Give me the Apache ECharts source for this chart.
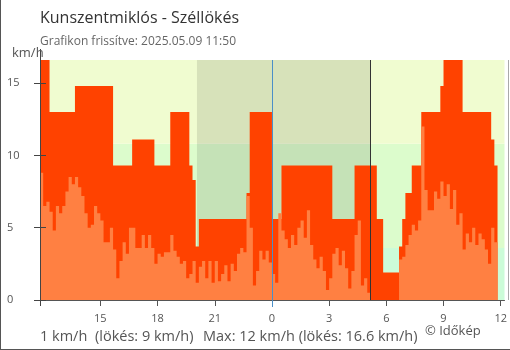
<!DOCTYPE html>
<html>
<head>
<meta charset="utf-8">
<script src="https://cdn.jsdelivr.net/npm/echarts@6/dist/echarts.min.js"></script>
<style>
  html, body { margin: 0; padding: 0; background: #fff; }
  #chart { width: 510px; height: 350px; }
</style>
</head>
<body>
<div id="chart"></div>
<script>
// Kunszentmiklós wind station, 10-minute readings
// from 2025-05-08 11:50 to 2025-05-09 11:50 (hours counted from 05-08 00:00)
const startHour = 11 + 50 / 60;
const stepHours = 10 / 60;

// gusts, km/h
const gust = [
  16.6, 16.6, 16.6, 13.0, 13.0, 13.0, 13.0, 13.0, 13.0, 13.0,
  13.0, 14.8, 14.8, 14.8, 14.8, 14.8, 14.8, 14.8, 14.8, 14.8,
  14.8, 14.8, 14.8, 9.3, 9.3, 9.3, 9.3, 9.3, 9.3, 11.1,
  11.1, 11.1, 11.1, 11.1, 11.1, 11.1, 9.3, 9.3, 9.3, 9.3,
  9.3, 13.0, 13.0, 13.0, 13.0, 13.0, 13.0, 9.3, 8.3, 3.7,
  5.6, 5.6, 5.6, 5.6, 5.6, 5.6, 5.6, 5.6, 5.6, 5.6,
  5.6, 5.6, 5.6, 5.6, 5.6, 7.4, 13.0, 13.0, 13.0, 13.0,
  13.0, 13.0, 13.0, 5.6, 5.6, 5.6, 9.3, 9.3, 9.3, 9.3,
  9.3, 9.3, 9.3, 9.3, 9.3, 9.3, 9.3, 9.3, 9.3, 9.3,
  9.3, 9.3, 5.6, 5.6, 5.6, 5.6, 5.6, 5.6, 5.6, 9.3,
  9.3, 9.3, 9.3, 9.3, 9.3, 9.3, 5.6, 5.6, 1.9, 1.9,
  1.9, 1.9, 1.9, 3.7, 5.6, 7.4, 7.4, 9.3, 9.3, 9.3,
  13.0, 13.0, 13.0, 13.0, 13.0, 13.0, 14.8, 16.6, 16.6, 16.6,
  16.6, 16.6, 16.6, 13.0, 13.0, 13.0, 13.0, 13.0, 13.0, 13.0,
  13.0, 13.0, 11.1, 9.3, 9.3
];

// mean wind, km/h
const wind = [
  8.8, 6.5, 6.8, 6.1, 4.8, 6.5, 6.0, 6.5, 7.5, 8.5,
  8.0, 8.5, 7.8, 7.2, 6.0, 5.0, 5.2, 6.5, 6.0, 5.5,
  4.0, 4.0, 5.0, 3.5, 1.5, 2.7, 4.0, 3.2, 5.0, 5.0,
  3.6, 3.6, 4.5, 3.6, 4.5, 3.6, 2.5, 3.2, 3.0, 3.3,
  3.3, 4.5, 3.4, 3.0, 2.5, 2.7, 1.5, 1.8, 2.7, 1.2,
  2.3, 2.7, 1.5, 2.7, 1.2, 2.7, 1.3, 1.8, 2.4, 1.3,
  2.5, 2.0, 3.2, 3.6, 3.3, 7.2, 5.0, 1.0, 2.0, 3.4,
  2.8, 3.4, 2.6, 1.8, 1.2, 6.0, 4.8, 4.2, 3.6, 4.5,
  3.8, 5.0, 5.5, 4.3, 6.2, 3.8, 2.8, 2.2, 3.0, 2.0,
  0.7, 1.5, 3.2, 3.6, 2.4, 3.4, 2.2, 0.8, 2.0, 4.5,
  5.5, 1.0, 1.5, 0.5, 0, 0, 0, 0, 0, 0,
  0, 0, 0, 2.8, 3.0, 3.8, 4.5, 5.2, 4.8, 5.5,
  12.0, 7.6, 6.2, 6.2, 7.5, 7.0, 8.2, 7.2, 8.0, 6.3,
  7.6, 5.2, 6.0, 3.5, 4.6, 4.0, 5.0, 3.8, 4.6, 4.2,
  3.5, 2.5, 5.0, 4.0, 4.0
];

const xTicks = [15, 18, 21, 24, 27, 30, 33, 36];
const yTicks = [0, 5, 10, 15];
const yMax = 16.6;
const xMax = 36.2;

// wind-force bands (km/h) and the night between sunset and sunrise
const bandEdges = [0, 3.6, 10.8, yMax];
const bandColors = ['#ccfcd8', '#dcfccc', '#f0fcd0'];
const sunset = 20 + 4 / 60;
const sunrise = 24 + 5 + 11 / 60;
const midnight = 24;

const FONT = '"Open Sans", "Noto Sans", sans-serif';
const toPoints = arr => arr.map((v, i) => [startHour + i * stepHours, v]);

const chart = echarts.init(document.getElementById('chart'), null, { renderer: 'canvas' });

const bandAreas = bandColors.map((c, k) => [
  { yAxis: bandEdges[k], itemStyle: { color: c } },
  { yAxis: bandEdges[k + 1] }
]);

chart.setOption({
  animation: false,
  backgroundColor: '#fff',
  textStyle: { fontFamily: FONT },
  grid: { left: 40, right: 2, top: 60, bottom: 50, containLabel: false },
  xAxis: [
    {
      type: 'value', min: startHour, max: xMax, z: 10,
      axisLine: { show: true, lineStyle: { color: '#555', width: 1 } },
      axisTick: { show: true, customValues: xTicks, length: 6, lineStyle: { color: '#555' } },
      axisLabel: {
        customValues: xTicks, margin: 13, color: '#555', fontSize: 11, fontFamily: FONT,
        formatter: v => String(Math.round(v) % 24)
      },
      splitLine: { show: false }
    },
    {
      // midnight tick in the day-change colour
      type: 'value', min: startHour, max: xMax, position: 'bottom', z: 11,
      axisLine: { show: false },
      axisTick: { show: true, customValues: [midnight], length: 7, lineStyle: { color: '#4a8fc8' } },
      axisLabel: { show: false },
      splitLine: { show: false }
    }
  ],
  yAxis: [
    {
      type: 'value', min: 0, max: yMax, z: 10,
      axisLine: { show: true, lineStyle: { color: '#444', width: 1 } },
      axisTick: { show: true, customValues: yTicks, length: 6, lineStyle: { color: '#444' } },
      axisLabel: {
        customValues: yTicks, align: 'left', margin: 33,
        color: '#555', fontSize: 11, fontFamily: FONT
      },
      splitLine: { show: false }
    },
    {
      type: 'value', min: 0, max: yMax, position: 'left', z: 10,
      axisLine: { show: false },
      axisTick: { show: true, inside: true, customValues: yTicks, length: 6, lineStyle: { color: '#444' } },
      axisLabel: { show: false },
      splitLine: { show: false }
    }
  ],
  series: [
    {
      // background bands and night shading
      type: 'line', data: [], silent: true, z: 0,
      markArea: {
        silent: true,
        data: bandAreas.concat([[
          { xAxis: sunset, itemStyle: { color: 'rgba(0,0,0,0.1)' } },
          { xAxis: sunrise }
        ]])
      }
    },
    {
      name: 'Széllökés', type: 'line', step: 'end', data: toPoints(gust),
      showSymbol: false, symbol: 'none', z: 2,
      lineStyle: { width: 0 },
      areaStyle: { color: '#ff4200', opacity: 1 }
    },
    {
      name: 'Szél', type: 'line', step: 'end', data: toPoints(wind),
      showSymbol: false, symbol: 'none', z: 3,
      lineStyle: { width: 0 },
      areaStyle: { color: '#ff8042', opacity: 1 }
    },
    {
      // day change and sunrise markers
      type: 'line', data: [], silent: true, z: 5,
      markLine: {
        silent: true, symbol: 'none', label: { show: false },
        data: [
          { xAxis: midnight, lineStyle: { color: '#4a8fc8', width: 1, type: 'solid' } },
          { xAxis: sunrise, lineStyle: { color: '#333', width: 1, type: 'solid' } }
        ]
      }
    }
  ],
  graphic: [
    { type: 'line', z: 100, shape: { x1: 40.5, y1: 49, x2: 40.5, y2: 60 }, style: { stroke: '#444', lineWidth: 1 } },
    { type: 'line', z: 100, shape: { x1: 40.5, y1: 300, x2: 40.5, y2: 306 }, style: { stroke: '#444', lineWidth: 1 } },
    { type: 'line', z: 100, shape: { x1: 508.5, y1: 60, x2: 508.5, y2: 300 }, style: { stroke: '#aaa', lineWidth: 1 } },
    { type: 'line', z: 100, shape: { x1: 0.5, y1: 0, x2: 0.5, y2: 350 }, style: { stroke: '#555', lineWidth: 1 } },
    { type: 'line', z: 100, shape: { x1: 0, y1: 349.5, x2: 510, y2: 349.5 }, style: { stroke: '#555', lineWidth: 1 } },
    { type: 'text', z: 100, x: 40, y: 10, style: { text: 'Kunszentmiklós - Széllökés', font: '16px ' + FONT, fill: '#333', verticalAlign: 'top' } },
    { type: 'text', z: 100, x: 40, y: 36, style: { text: 'Grafikon frissítve: 2025.05.09 11:50', font: '12px ' + FONT, fill: '#666', verticalAlign: 'top' } },
    { type: 'text', z: 100, x: 12, y: 47, style: { text: 'km/h', font: '13px ' + FONT, fill: '#555', verticalAlign: 'top' } },
    { type: 'text', z: 100, x: 40, y: 329, style: { text: '1 km/h', font: '14.5px ' + FONT, fill: '#555', verticalAlign: 'top' } },
    { type: 'text', z: 100, x: 95, y: 329, style: { text: '(lökés: 9 km/h)', font: '14.5px ' + FONT, fill: '#555', verticalAlign: 'top' } },
    { type: 'text', z: 100, x: 203, y: 329, style: { text: 'Max: 12 km/h (lökés: 16.6 km/h)', font: '14.5px ' + FONT, fill: '#555', verticalAlign: 'top' } },
    { type: 'text', z: 100, x: 425, y: 325, style: { text: '© Időkép', font: '13px ' + FONT, fill: '#555', verticalAlign: 'top' } }
  ]
});
</script>
</body>
</html>
